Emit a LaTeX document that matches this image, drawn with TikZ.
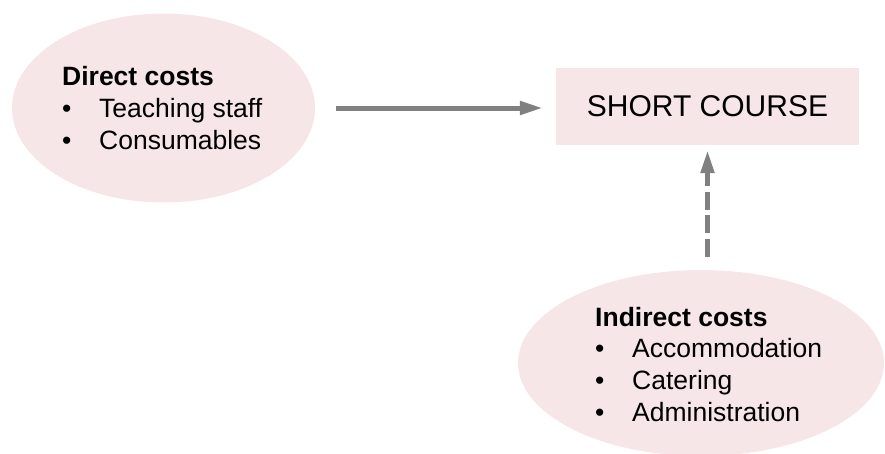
\documentclass[tikz,border=0pt]{standalone}
\usepackage{fontspec}
\setmainfont{Liberation Sans}
\usetikzlibrary{shapes.geometric,arrows.meta}

\definecolor{blush}{HTML}{F7E6E8}
\definecolor{arrowgrey}{HTML}{808080}

\tikzset{
  costblob/.style={ellipse, fill=blush, draw=none, inner sep=0pt},
  coursebox/.style={rectangle, fill=blush, draw=none, inner sep=0pt,
    font=\fontsize{30}{36}\selectfont},
  heading/.style={anchor=base west, inner sep=0pt, font=\fontsize{26.5}{32}\selectfont\bfseries},
  item/.style={anchor=base west, inner sep=0pt, font=\fontsize{26.5}{32}\selectfont},
  flow/.style={draw=arrowgrey, line width=5pt,
    -{Triangle[length=23pt, width=13pt]}},
  weakflow/.style={flow, dash pattern=on 18pt off 5.5pt}
}

\begin{document}
\begin{tikzpicture}[x=1pt, y=-1pt]
  \useasboundingbox (0,0) rectangle (885,453);
  \clip (0,0) rectangle (885,453);

  % the course itself
  \node[coursebox, minimum width=303pt, minimum height=77pt] (course) at (707.5,106.5) {SHORT COURSE};

  % direct costs
  \node[costblob, minimum width=303pt, minimum height=189pt] (direct) at (163.5,108) {};
  \node[heading] (dhead) at (62,85.5) {Direct costs};
  \node[item] (db1) at (62,117.5) {\textbullet};
  \node[item] (dt1) at (99,117.5) {Teaching staff};
  \node[item] (db2) at (62,149) {\textbullet};
  \node[item] (dt2) at (99,149) {Consumables};

  % indirect costs
  \node[costblob, minimum width=366pt, minimum height=186pt] (indirect) at (701,363) {};
  \node[heading] (ihead) at (595,326) {Indirect costs};
  \node[item] (ib1) at (595,357.5) {\textbullet};
  \node[item] (it1) at (632,357.5) {Accommodation};
  \node[item] (ib2) at (595,389.5) {\textbullet};
  \node[item] (it2) at (632,389.5) {Catering};
  \node[item] (ib3) at (595,421.5) {\textbullet};
  \node[item] (it3) at (632,421.5) {Administration};

  % cost flows into the course
  \draw[flow, shorten <=21pt, shorten >=13pt] (direct.east) -- (course.west |- direct.east);
  \draw[weakflow, shorten <=13pt, shorten >=5pt] (course.south |- indirect.north) -- (course.south);
\end{tikzpicture}
\end{document}
